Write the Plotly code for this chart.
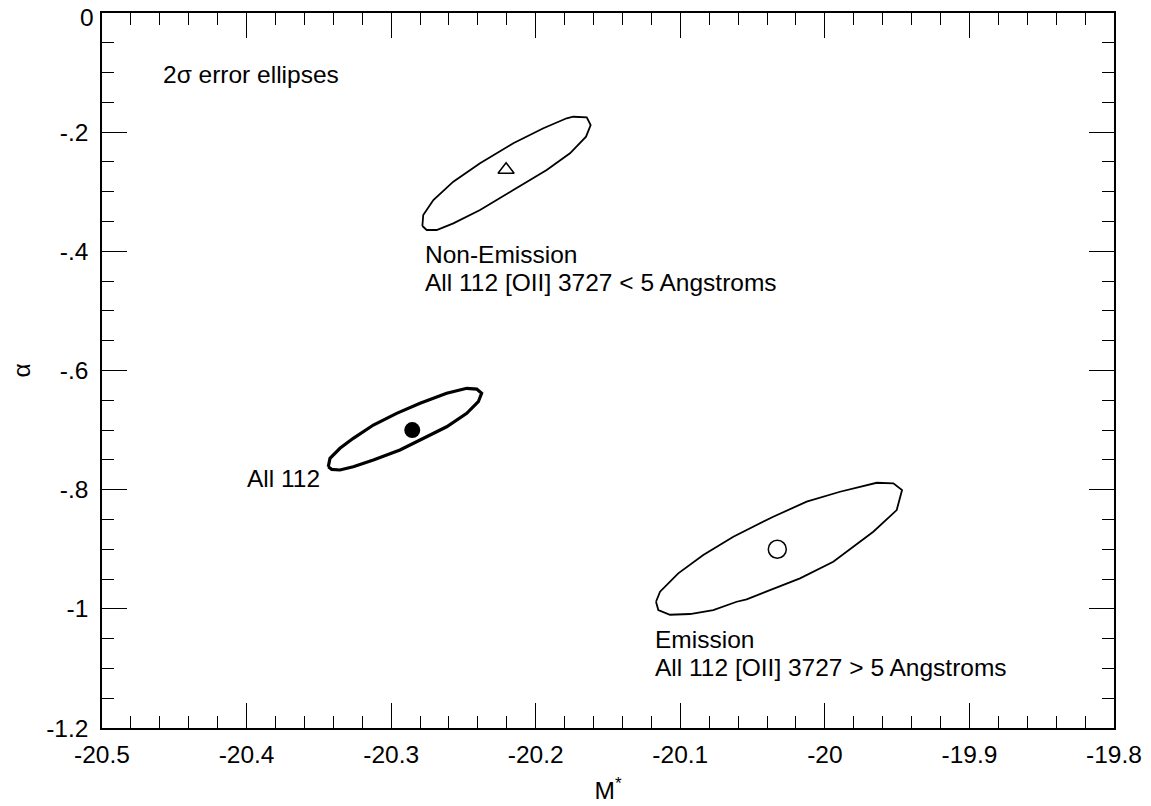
import plotly.graph_objects as go

# 2-sigma error ellipses in the (M*, alpha) plane
nonem_x = [-20.2784, -20.2778, -20.2708, -20.2570, -20.2385, -20.2155, -20.1947, -20.1786, -20.1740,
           -20.1647, -20.1620, -20.1652, -20.1763, -20.1924, -20.2155, -20.2385, -20.2570, -20.2685, -20.2754]
nonem_y = [-0.3575, -0.3390, -0.3139, -0.2831, -0.2523, -0.2187, -0.1935, -0.1767, -0.1741,
           -0.1751, -0.1880, -0.2076, -0.2355, -0.2635, -0.2971, -0.3307, -0.3530, -0.3642, -0.3642]

all_x = [-20.3435, -20.3423, -20.3354, -20.3262, -20.3123, -20.2962, -20.2800, -20.2616, -20.2477, -20.2408,
         -20.2374, -20.2397, -20.2477, -20.2616, -20.2800, -20.2939, -20.3123, -20.3262, -20.3354, -20.3411]
all_y = [-0.7615, -0.7474, -0.7306, -0.7138, -0.6915, -0.6719, -0.6551, -0.6383, -0.6299, -0.6311,
         -0.6383, -0.6524, -0.6719, -0.6944, -0.7167, -0.7335, -0.7503, -0.7615, -0.7670, -0.7659]

em_x = [-20.1168, -20.1140, -20.1014, -20.0841, -20.0633, -20.0357, -20.0126, -19.9895, -19.9641, -19.9526, -19.9466,
        -19.9503, -19.9665, -19.9942, -20.0172, -20.0402, -20.0541, -20.0610, -20.0772, -20.0933, -20.1071, -20.1152]
em_y = [-0.9881, -0.9713, -0.9404, -0.9097, -0.8790, -0.8454, -0.8202, -0.8035, -0.7884, -0.7894, -0.8006,
        -0.8342, -0.8706, -0.9209, -0.9488, -0.9713, -0.9841, -0.9881, -1.0020, -1.0087, -1.0099, -1.0020]

# best-fit points
best_nonem = (-20.2205, -0.263)
best_all = (-20.2854, -0.700)
best_em = (-20.0329, -0.900)

x_ticks = [-20.5, -20.4, -20.3, -20.2, -20.1, -20.0, -19.9, -19.8]
x_labels = ["-20.5", "-20.4", "-20.3", "-20.2", "-20.1", "-20", "-19.9", "-19.8"]
y_ticks = [0, -0.2, -0.4, -0.6, -0.8, -1.0, -1.2]
y_labels = ["0", "-.2", "-.4", "-.6", "-.8", "-1", "-1.2"]

FONT = "Arial, Liberation Sans, sans-serif"
FS = 24.5


def closed(v):
    return v + v[:1]


fig = go.Figure()
fig.add_trace(go.Scatter(x=closed(nonem_x), y=closed(nonem_y), mode="lines",
                         line=dict(color="black", width=1.8)))
fig.add_trace(go.Scatter(x=closed(all_x), y=closed(all_y), mode="lines",
                         line=dict(color="black", width=3.2)))
fig.add_trace(go.Scatter(x=closed(em_x), y=closed(em_y), mode="lines",
                         line=dict(color="black", width=1.8)))

fig.add_trace(go.Scatter(x=[best_nonem[0]], y=[best_nonem[1]], mode="markers",
                         marker=dict(symbol="triangle-up-open", size=14, color="black", line=dict(width=1.5))))
fig.add_trace(go.Scatter(x=[best_all[0]], y=[best_all[1]], mode="markers",
                         marker=dict(symbol="circle", size=16, color="black")))
fig.add_trace(go.Scatter(x=[best_em[0]], y=[best_em[1]], mode="markers",
                         marker=dict(symbol="circle-open", size=18, color="black", line=dict(width=1.5))))

notes = [
    (-20.459, -0.104, "2σ error ellipses", "left"),
    (-20.278, -0.406, "Non-Emission", "left"),
    (-20.278, -0.453, "All 112 [OII] 3727 < 5 Angstroms", "left"),
    (-20.119, -1.052, "Emission", "left"),
    (-20.119, -1.099, "All 112 [OII] 3727 > 5 Angstroms", "left"),
    (-20.348, -0.7805, "All 112", "right"),
]
for nx, ny, txt, anchor in notes:
    fig.add_annotation(x=nx, y=ny, text=txt, showarrow=False, xanchor=anchor, yanchor="middle",
                       font=dict(family=FONT, size=FS, color="black"))

# the top "0" label sits at the very edge of the page; draw it nudged down so it is not clipped
fig.add_annotation(xref="paper", yref="y", x=0, y=y_ticks[0], text=y_labels[0], showarrow=False,
                   xanchor="right", yanchor="middle", xshift=-6, yshift=-4,
                   font=dict(family=FONT, size=FS, color="black"))
y_text = [""] + y_labels[1:]

axis_common = dict(showgrid=False, zeroline=False, showline=True, linecolor="black", linewidth=1.5,
                   mirror="allticks", ticks="inside", ticklen=25, tickwidth=1.3, tickcolor="black",
                   automargin=False, ticklabeloverflow="allow",
                   tickfont=dict(family=FONT, size=FS, color="black"))

fig.update_xaxes(range=[-20.5, -19.8], tickvals=x_ticks, ticktext=x_labels,
                 minor=dict(ticks="inside", ticklen=12, tickwidth=1.3, tickcolor="black", dtick=0.02, tick0=-20.5),
                 title=dict(text="M<sup>*</sup>", font=dict(family=FONT, size=FS, color="black"), standoff=15),
                 ticklabelstandoff=4, **axis_common)
fig.update_yaxes(range=[-1.2, 0], tickvals=y_ticks, ticktext=y_text,
                 minor=dict(ticks="inside", ticklen=12, tickwidth=1.3, tickcolor="black", dtick=0.05, tick0=0),
                 title=dict(text="α", font=dict(family=FONT, size=FS, color="black"), standoff=30),
                 ticklabelstandoff=7, **axis_common)

# the page body adds an 8px offset, so the figure is sized to fit the 1151x806 window after it
fig.update_layout(width=1143, height=798, showlegend=False,
                  margin=dict(l=94, r=37, t=5, b=78, pad=0),
                  plot_bgcolor="white", paper_bgcolor="white")

fig.write_html("out.html")
